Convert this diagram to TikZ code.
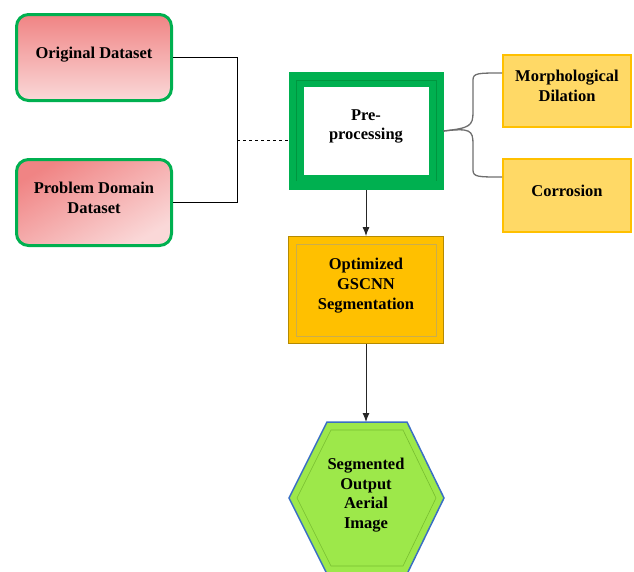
\documentclass[tikz,border=0pt]{standalone}
\usepackage{fontspec}
\setmainfont{Liberation Serif}
\usepackage{xcolor}
\usepackage{tikz}
\usetikzlibrary{shapes, arrows, positioning, arrows.meta, calc}

\definecolor{boxgreen}{HTML}{00B050}
\definecolor{bevelgreen}{HTML}{00963F}
\definecolor{redtop}{HTML}{F08484}
\definecolor{redbot}{HTML}{FAD8D8}
\definecolor{paleyellow}{HTML}{FFD966}
\definecolor{gold}{HTML}{FFC000}
\definecolor{darkgold}{HTML}{B58A00}
\definecolor{hexgreen}{HTML}{9DE84A}
\definecolor{hexline}{HTML}{78BE30}
\definecolor{hexblue}{HTML}{3A6FC4}
\definecolor{bracegray}{HTML}{6E6E6E}

\tikzset{
    lbl/.style={align=center, font=\fontsize{16.5}{19.8}\selectfont\bfseries},
    lifted/.style={text depth=9pt},
    databox/.style={lbl, lifted, draw=boxgreen, line width=3pt, rounded corners=12pt,
        top color=redtop, bottom color=redbot, minimum width=155pt, minimum height=86pt},
    subbox/.style={lbl, lifted, draw=gold, fill=paleyellow, line width=2pt,
        minimum width=128pt, minimum height=72pt},
    flowarrow/.style={-{Latex[length=9pt,width=7pt]}, line width=1pt, black!85}
}

\begin{document}
\begin{tikzpicture}[x=1pt, y=-1pt]
        \useasboundingbox (0,0) rectangle (634,571);

        % Input datasets
        \node[databox] (orig) at (94,57.5) {Original Dataset};
        \node[databox, shading angle=30] (prob) at (94,202.5) {Problem Domain\\Dataset};

        % Pre-processing block
        \node[lbl, text depth=13pt, draw=boxgreen, fill=white, line width=15pt, minimum width=140pt,
              minimum height=103pt] (pre) at (366,131) {Pre-\\processing};
        \draw[bevelgreen, line width=0.8pt] (296,181) -- (296,80) -- (436,80);
        \draw[bevelgreen, line width=0.8pt] (436,80) -- (436,181);

        % Sub steps
        \node[subbox] (morph) at (567,90.5) {Morphological\\Dilation};
        \node[subbox, minimum height=73pt] (corr) at (567,195.5) {Corrosion};

        % Segmentation
        \node[lbl, text depth=13pt, draw=darkgold, fill=gold, line width=0.8pt, minimum width=155pt,
              minimum height=107pt] (opt) at (366,290) {Optimized\\GSCNN\\Segmentation};
        \draw[darkgold!70, line width=0.6pt] ($(opt.south west)+(8,-8)$) rectangle ($(opt.north east)+(-8,8)$);

        % Output hexagon
        \draw[hexblue, line width=1.5pt, fill=hexgreen]
            (327,422) -- (407,422) -- (444,498) -- (407,574) -- (327,574) -- (289,498) -- cycle;
        \draw[hexline, line width=0.6pt]
            (331,430) -- (403,430) -- (436,498) -- (403,566) -- (331,566) -- (297,498) -- cycle;
        \coordinate (hextop) at (366,422);
        \node[lbl] (outimg) at (366,495) {Segmented\\Output\\Aerial\\Image};

        % Connectors
        \coordinate (join) at (237,140);
        \draw[line width=0.8pt] (orig.east) -- (orig.east -| join) -- (prob.east -| join) -- (prob.east);
        \draw[dashed, line width=0.8pt] (join) -- (join -| pre.west);

        \draw[bracegray, line width=1.3pt] (pre.east) .. controls (470,128) and (473,126) .. (473,112)
            -- (473,80) .. controls (473,73) and (478,73) .. (morph.west |- 0,73);
        \draw[bracegray, line width=1.3pt] (pre.east) .. controls (470,128) and (473,130) .. (473,144)
            -- (473,170) .. controls (473,177) and (478,177) .. (corr.west |- 0,177);

        \draw[flowarrow] (pre.south) -- (opt.north);
        \draw[flowarrow] (opt.south) -- (hextop);

    \end{tikzpicture}
\end{document}
